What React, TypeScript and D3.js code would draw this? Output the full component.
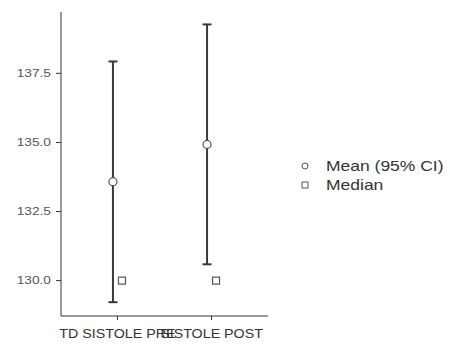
import React, { useEffect, useRef } from 'react';
import * as d3 from 'd3';

const categories = ['TD SISTOLE PRE', 'SISTOLE POST'];
const means = [133.58, 134.93];
const ciLower = [129.22, 130.59];
const ciUpper = [137.93, 139.27];
const medians = [130.0, 130.0];
const yTicks = [130.0, 132.5, 135.0, 137.5];
const legendLabels = ['Mean (95% CI)', 'Median'];

const WIDTH = 450;
const HEIGHT = 345;
const FONT = '"Liberation Sans", Arial, sans-serif';

const App: React.FC = () => {
  const svgRef = useRef<SVGSVGElement>(null);

  useEffect(() => {
    if (!svgRef.current) return;
    const svg = d3.select(svgRef.current);
    svg.selectAll('*').remove();

    const left = 61;
    const right = 268;
    const top = 12;
    const bottom = 316;

    const x = d3.scalePoint<string>().domain(categories).range([left, right]).padding(0.6);
    const y = d3.scaleLinear().domain([128.72, 139.72]).range([bottom, top]);

    // text drawn slightly stretched horizontally, like the reference
    const label = (g: any, tx: number, ty: number, text: string, size: number, anchor: string, color: string, sx = 1.25) => {
      g.append('g')
        .attr('transform', `translate(${tx},${ty}) scale(${sx},1)`)
        .append('text')
        .attr('text-anchor', anchor)
        .attr('dy', '0.35em')
        .attr('font-family', FONT)
        .attr('font-size', size)
        .attr('fill', color)
        .text(text);
    };

    // axes
    svg.append('line')
      .attr('x1', left).attr('x2', left)
      .attr('y1', top).attr('y2', bottom)
      .attr('stroke', '#333').attr('stroke-width', 1);
    svg.append('line')
      .attr('x1', left).attr('x2', right)
      .attr('y1', bottom).attr('y2', bottom)
      .attr('stroke', '#333').attr('stroke-width', 1);

    yTicks.forEach(t => {
      svg.append('line')
        .attr('x1', left - 5).attr('x2', left)
        .attr('y1', y(t)).attr('y2', y(t))
        .attr('stroke', '#333');
      label(svg, left - 10, y(t), d3.format('.1f')(t), 11, 'end', '#555');
    });

    categories.forEach(c => {
      const cx = x(c) || 0;
      svg.append('line')
        .attr('x1', cx).attr('x2', cx)
        .attr('y1', bottom).attr('y2', bottom + 4)
        .attr('stroke', '#333');
      label(svg, cx, bottom + 18, c, 12, 'middle', '#333', 1.19);
    });

    // error bars
    const capW = 4.5;
    categories.forEach((c, i) => {
      const cx = (x(c) || 0) - 4.5;
      const g = svg.append('g').attr('stroke', '#3a3a3a').attr('stroke-width', 2);
      g.append('line').attr('x1', cx).attr('x2', cx).attr('y1', y(ciLower[i])).attr('y2', y(ciUpper[i]));
      g.append('line').attr('x1', cx - capW).attr('x2', cx + capW).attr('y1', y(ciLower[i])).attr('y2', y(ciLower[i]));
      g.append('line').attr('x1', cx - capW).attr('x2', cx + capW).attr('y1', y(ciUpper[i])).attr('y2', y(ciUpper[i]));

      svg.append('circle')
        .attr('cx', cx).attr('cy', y(means[i])).attr('r', 4)
        .attr('fill', '#fff').attr('stroke', '#555').attr('stroke-width', 1.2);

      const mx = (x(c) || 0) + 4.5;
      svg.append('rect')
        .attr('x', mx - 3.5).attr('y', y(medians[i]) - 3.5)
        .attr('width', 7).attr('height', 7)
        .attr('fill', '#fff').attr('stroke', '#555').attr('stroke-width', 1.2);
    });

    // legend
    const lx = 305;
    const ly = [166, 185];
    svg.append('circle')
      .attr('cx', lx).attr('cy', ly[0]).attr('r', 3)
      .attr('fill', '#fff').attr('stroke', '#555').attr('stroke-width', 1);
    svg.append('rect')
      .attr('x', lx - 3).attr('y', ly[1] - 3).attr('width', 6).attr('height', 6)
      .attr('fill', '#fff').attr('stroke', '#555').attr('stroke-width', 1);
    legendLabels.forEach((t, i) => label(svg, 326, ly[i], t, 14, 'start', '#333'));
  }, []);

  return (
    <div style={{ position: 'absolute', left: 0, top: 0 }}>
      <svg ref={svgRef} width={WIDTH} height={HEIGHT} style={{ display: 'block', background: '#fff' }} />
    </div>
  );
};

export default App;
